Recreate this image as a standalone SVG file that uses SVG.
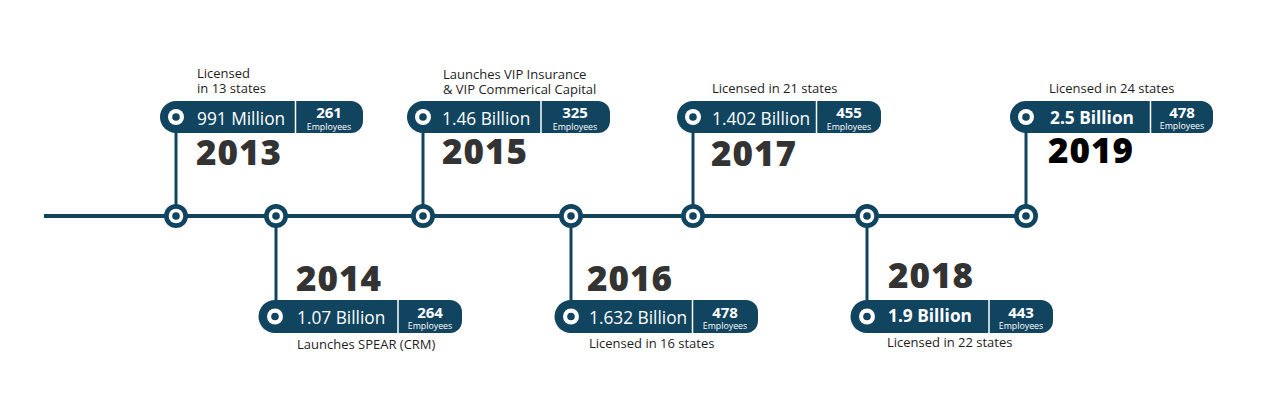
<svg xmlns="http://www.w3.org/2000/svg" width="1283" height="408" viewBox="0 0 1283 408">
<defs>
<style>
.pill{fill:#11445f}
.div{stroke:#fff;stroke-width:1.5}
.amt{font-family:"Open Sans","Liberation Sans",sans-serif;font-size:17.3px;fill:#fff}
.amtb{font-family:"Open Sans","Liberation Sans",sans-serif;font-size:17.3px;fill:#fff;font-weight:700}
.num{font-family:"Open Sans","Liberation Sans",sans-serif;font-size:15px;fill:#fff;font-weight:700;text-anchor:middle}
.emp{font-family:"Open Sans","Liberation Sans",sans-serif;font-size:8.8px;fill:#fff;text-anchor:middle}
.yr{font-family:"Open Sans","Liberation Sans",sans-serif;font-size:35px;font-weight:800;fill:#333;letter-spacing:1px}
.lbl{font-family:"Open Sans","Liberation Sans",sans-serif;font-size:13px;fill:#1e1e1e}
.conn{stroke:#11445f;stroke-width:3;fill:none}
</style>
<g id="node-dot">
<circle r="12" fill="#11445f"/><circle r="7.3" fill="#fff"/><circle r="3.8" fill="#11445f"/>
</g>
<g id="pill-dot">
<circle r="8" fill="#fff"/><circle r="3.8" fill="#11445f"/>
</g>
</defs>
<g id="connectors">
<line class="conn" x1="44" y1="216" x2="1026" y2="216" style="stroke-width:4"/>
<line class="conn" x1="176" y1="117" x2="176" y2="216"/>
<line class="conn" x1="276" y1="216" x2="276" y2="316"/>
<line class="conn" x1="423" y1="117" x2="423" y2="216"/>
<line class="conn" x1="571" y1="216" x2="571" y2="316"/>
<line class="conn" x1="693" y1="117" x2="693" y2="216"/>
<line class="conn" x1="867" y1="216" x2="867" y2="316"/>
<line class="conn" x1="1026" y1="117" x2="1026" y2="216"/>
<use href="#node-dot" x="176" y="216"/>
<use href="#node-dot" x="276" y="216"/>
<use href="#node-dot" x="423" y="216"/>
<use href="#node-dot" x="571" y="216"/>
<use href="#node-dot" x="693" y="216"/>
<use href="#node-dot" x="867" y="216"/>
<use href="#node-dot" x="1026" y="216"/>
</g>
<g id="n2013">
<path class="pill" d="M176,101 H351 A12,12 0 0 1 363,113 V121 A12,12 0 0 1 351,133 H176 A16,16 0 0 1 176,101 Z"/>
<use href="#pill-dot" x="176" y="117"/>
<line class="div" x1="295.5" y1="101" x2="295.5" y2="133"/>
<text class="amt" x="197" y="125">991 Million</text>
<text class="num" x="329" y="118">261</text>
<text class="emp" x="329" y="129.5">Employees</text>
<text class="yr" x="196" y="165">2013</text>
<text class="lbl" x="197" y="78">Licensed</text>
<text class="lbl" x="197" y="93">in 13 states</text>
</g>
<g id="n2014">
<path class="pill" d="M275,300 H450 A12,12 0 0 1 462,312 V321 A12,12 0 0 1 450,333 H275 A16.5,16.5 0 0 1 275,300 Z"/>
<use href="#pill-dot" x="275" y="316.5"/>
<line class="div" x1="398" y1="300" x2="398" y2="333"/>
<text class="amt" x="297" y="324">1.07 Billion</text>
<text class="num" x="430" y="317.5">264</text>
<text class="emp" x="430" y="329">Employees</text>
<text class="yr" x="296" y="291">2014</text>
<text class="lbl" x="297" y="349">Launches SPEAR (CRM)</text>
</g>
<g id="n2015">
<path class="pill" d="M423,101 H598 A12,12 0 0 1 610,113 V121 A12,12 0 0 1 598,133 H423 A16,16 0 0 1 423,101 Z"/>
<use href="#pill-dot" x="423" y="117"/>
<line class="div" x1="541" y1="101" x2="541" y2="133"/>
<text class="amt" x="442" y="125">1.46 Billion</text>
<text class="num" x="575" y="118">325</text>
<text class="emp" x="575" y="129.5">Employees</text>
<text class="yr" x="442" y="164">2015</text>
<text class="lbl" x="443" y="79">Launches VIP Insurance</text>
<text class="lbl" x="443" y="94">&amp; VIP Commerical Capital</text>
</g>
<g id="n2016">
<path class="pill" d="M571,300 H746 A12,12 0 0 1 758,312 V321 A12,12 0 0 1 746,333 H571 A16.5,16.5 0 0 1 571,300 Z"/>
<use href="#pill-dot" x="571" y="316.5"/>
<line class="div" x1="692.5" y1="300" x2="692.5" y2="333"/>
<text class="amt" x="589" y="324">1.632 Billion</text>
<text class="num" x="725" y="317.5">478</text>
<text class="emp" x="725" y="329">Employees</text>
<text class="yr" x="587" y="291">2016</text>
<text class="lbl" x="589" y="348">Licensed in 16 states</text>
</g>
<g id="n2017">
<path class="pill" d="M693,101 H869 A12,12 0 0 1 881,113 V121 A12,12 0 0 1 869,133 H693 A16,16 0 0 1 693,101 Z"/>
<use href="#pill-dot" x="693" y="117"/>
<line class="div" x1="816.5" y1="101" x2="816.5" y2="133"/>
<text class="amt" x="712" y="125">1.402 Billion</text>
<text class="num" x="849" y="118">455</text>
<text class="emp" x="849" y="129.5">Employees</text>
<text class="yr" x="711" y="166">2017</text>
<text class="lbl" x="712" y="93">Licensed in 21 states</text>
</g>
<g id="n2018">
<path class="pill" d="M867,300 H1041 A12,12 0 0 1 1053,312 V321 A12,12 0 0 1 1041,333 H867 A16.5,16.5 0 0 1 867,300 Z"/>
<use href="#pill-dot" x="867" y="316.5"/>
<line class="div" x1="989" y1="300" x2="989" y2="333"/>
<text class="amtb" x="888" y="322">1.9 Billion</text>
<text class="num" x="1021" y="317.5">443</text>
<text class="emp" x="1021" y="329">Employees</text>
<text class="yr" x="888" y="288">2018</text>
<text class="lbl" x="887" y="347">Licensed in 22 states</text>
</g>
<g id="n2019">
<path class="pill" d="M1026,101 H1201 A12,12 0 0 1 1213,113 V121 A12,12 0 0 1 1201,133 H1026 A16,16 0 0 1 1026,101 Z"/>
<use href="#pill-dot" x="1026" y="117"/>
<line class="div" x1="1150.5" y1="101" x2="1150.5" y2="133"/>
<text class="amtb" x="1050" y="124">2.5 Billion</text>
<text class="num" x="1182" y="117.5">478</text>
<text class="emp" x="1182" y="129">Employees</text>
<text class="yr" x="1048" y="163" style="fill:#000">2019</text>
<text class="lbl" x="1049" y="93">Licensed in 24 states</text>
</g>
</svg>
